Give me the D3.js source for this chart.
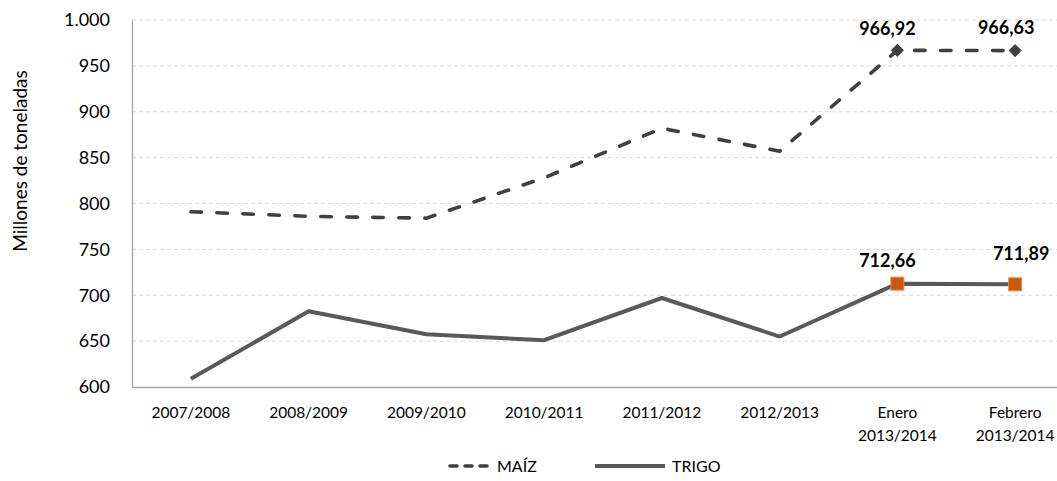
<!DOCTYPE html>
<html>
<head>
<meta charset="utf-8">
<script src="https://cdn.jsdelivr.net/npm/d3@7"></script>
<style>
	body { margin: 0; background: #fff; }
	svg { display: block; font-family: Lato, "Liberation Sans", sans-serif; }
</style>
</head>
<body>
<svg></svg>
<script>
// data
var categories = ["2007/2008", "2008/2009", "2009/2010", "2010/2011", "2011/2012", "2012/2013", "Enero\n2013/2014", "Febrero\n2013/2014"];
var maiz = [791, 786, 784, 828, 882, 857, 966.92, 966.63];
var trigo = [609, 682.5, 657.5, 651, 697, 655, 712.66, 711.89];
var yTicks = [600, 650, 700, 750, 800, 850, 900, 950, 1000];
var seriesNames = ["MAÍZ", "TRIGO"];

var draw = function() {

	var margin = {
			top: 20,
			right: 0,
			bottom: 94,
			left: 132
		},
		totalW = 1057,
		totalH = 481,
		width = 942,
		height = totalH - margin.top - margin.bottom;

	var fmt = function(v) {
		return v >= 1000 ? "1.000" : String(v);
	};
	var fmtLabel = function(v) {
		return v.toFixed(2).replace(".", ",");
	};

	var svg = d3.select("svg")
		.attr("width", totalW)
		.attr("height", totalH);

	var g = svg.append("g")
		.attr("transform", "translate(" + margin.left + "," + margin.top + ")");

	// scales
	var scaleX = d3.scaleBand()
		.domain(categories)
		.range([0, width]);

	var cx = function(i) {
		return scaleX(categories[i]) + scaleX.bandwidth() / 2;
	};

	var scaleY = d3.scaleLinear()
		.domain([600, 1000])
		.range([height, 0]);

	// gridlines
	g.append("g")
		.selectAll("line")
		.data(yTicks.slice(1))
		.enter()
		.append("line")
		.attr("x1", 0)
		.attr("x2", width)
		.attr("y1", function(d) { return scaleY(d); })
		.attr("y2", function(d) { return scaleY(d); })
		.attr("stroke", "#d9d9d9")
		.attr("stroke-width", 1)
		.attr("stroke-dasharray", "4,3");

	// Y axis
	var yAxis = g.append("g")
		.call(d3.axisLeft(scaleY).tickValues(yTicks).tickSize(0).tickPadding(22).tickFormat(fmt));
	yAxis.select(".domain").attr("stroke", "#a6a6a6").attr("stroke-width", 1.3);
	yAxis.selectAll("text")
		.attr("font-size", "18px")
		.attr("fill", "#000")
		.attr("font-family", "Lato, sans-serif");

	// X axis
	var xAxis = g.append("g")
		.attr("transform", "translate(0," + height + ")")
		.call(d3.axisBottom(scaleX).tickSize(0).tickFormat(""));
	xAxis.select(".domain").attr("stroke", "#a6a6a6").attr("stroke-width", 1.3);

	xAxis.selectAll(".tick")
		.append("text")
		.attr("fill", "#000")
		.attr("font-size", "15.5px")
		.attr("text-anchor", "middle")
		.attr("font-family", "Lato, sans-serif")
		.each(function(d) {
			var lines = d.split("\n");
			var t = d3.select(this);
			lines.forEach(function(l, i) {
				t.append("tspan")
					.attr("x", 0)
					.attr("y", 31 + i * 23)
					.text(l);
			});
		});

	// y axis title
	svg.append("text")
		.attr("transform", "translate(20,161) rotate(-90)")
		.attr("dy", "0.35em")
		.attr("text-anchor", "middle")
		.attr("font-size", "19px")
		.attr("fill", "#000")
		.text("Millones de toneladas");

	// lines
	var line = d3.line()
		.x(function(d, i) { return cx(i); })
		.y(function(d) { return scaleY(d); });

	g.append("path")
		.datum(trigo)
		.attr("d", line)
		.attr("fill", "none")
		.attr("stroke", "#595959")
		.attr("stroke-width", 4)
		.attr("stroke-linejoin", "round");

	g.append("path")
		.datum(maiz)
		.attr("d", line)
		.attr("fill", "none")
		.attr("stroke", "#404040")
		.attr("stroke-width", 3.6)
		.attr("stroke-linecap", "round")
		.attr("stroke-dasharray", "10.5,15.5");

	// markers on the last two points
	var last = [6, 7];

	g.selectAll(".diamond")
		.data(last)
		.enter()
		.append("path")
		.attr("class", "diamond")
		.attr("d", d3.symbol().type(d3.symbolDiamond2).size(110))
		.attr("transform", function(i) {
			return "translate(" + cx(i) + "," + scaleY(maiz[i]) + ")";
		})
		.attr("fill", "#404040");

	g.selectAll(".square")
		.data(last)
		.enter()
		.append("rect")
		.attr("class", "square")
		.attr("x", function(i) { return cx(i) - 6.5; })
		.attr("y", function(i) { return scaleY(trigo[i]) - 6.5; })
		.attr("width", 13)
		.attr("height", 13)
		.attr("fill", "#c55a11")
		.attr("stroke", "#f08a45")
		.attr("stroke-width", 1);

	// data labels
	var shiftMaiz = [[-10, -15], [-9, -17]];
	var shiftTrigo = [[-10, -17], [6, -24]];

	g.selectAll(".lblMaiz")
		.data(last)
		.enter()
		.append("text")
		.attr("class", "lblMaiz")
		.attr("x", function(i, k) { return cx(i) + shiftMaiz[k][0]; })
		.attr("y", function(i, k) { return scaleY(maiz[i]) + shiftMaiz[k][1]; })
		.attr("text-anchor", "middle")
		.attr("font-weight", "bold")
		.attr("font-size", "18px")
		.attr("fill", "#000")
		.text(function(i) { return fmtLabel(maiz[i]); });

	g.selectAll(".lblTrigo")
		.data(last)
		.enter()
		.append("text")
		.attr("class", "lblTrigo")
		.attr("x", function(i, k) { return cx(i) + shiftTrigo[k][0]; })
		.attr("y", function(i, k) { return scaleY(trigo[i]) + shiftTrigo[k][1]; })
		.attr("text-anchor", "middle")
		.attr("font-weight", "bold")
		.attr("font-size", "18px")
		.attr("fill", "#000")
		.text(function(i) { return fmtLabel(trigo[i]); });

	// legend
	var legend = svg.append("g")
		.attr("transform", "translate(448,466)");

	legend.append("line")
		.attr("x1", 2).attr("x2", 40)
		.attr("stroke", "#404040")
		.attr("stroke-width", 3.6)
		.attr("stroke-linecap", "round")
		.attr("stroke-dasharray", "7,8");
	legend.append("text")
		.attr("x", 49)
		.attr("dy", "0.35em")
		.attr("font-size", "16px")
		.attr("fill", "#000")
		.text(seriesNames[0]);

	legend.append("line")
		.attr("x1", 147).attr("x2", 217)
		.attr("stroke", "#595959")
		.attr("stroke-width", 4);
	legend.append("text")
		.attr("x", 224)
		.attr("dy", "0.35em")
		.attr("font-size", "16px")
		.attr("fill", "#000")
		.text(seriesNames[1]);
};

draw();
</script>
</body>
</html>
